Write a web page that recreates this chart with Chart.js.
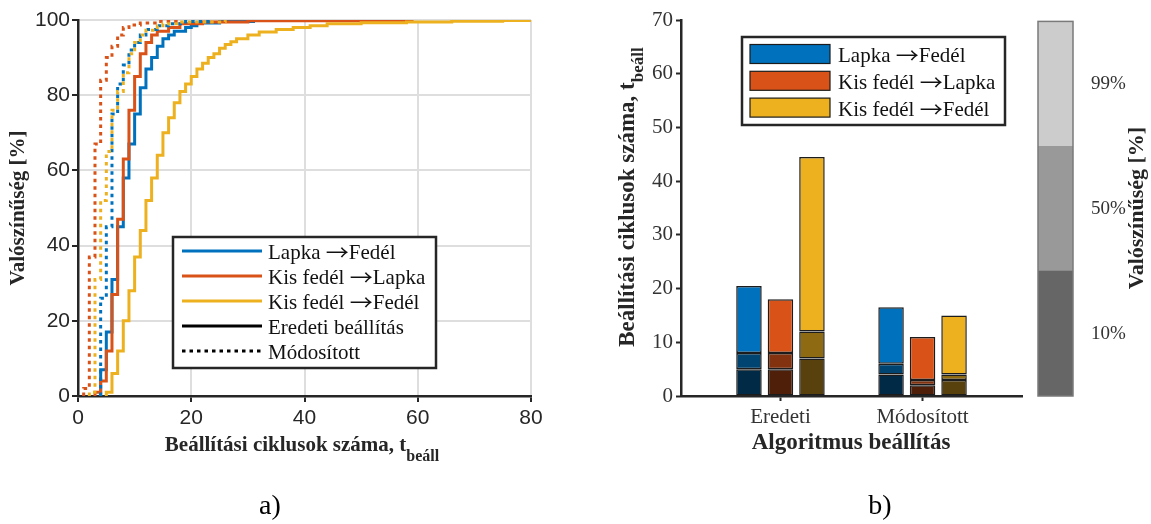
<!DOCTYPE html>
<html>
<head>
<meta charset="utf-8">
<script src="https://cdn.jsdelivr.net/npm/chart.js@4.4.0/dist/chart.umd.min.js"></script>
<style>
  html, body { margin: 0; padding: 0; background: #fff; width: 1151px; height: 524px; overflow: hidden; }
  canvas { position: absolute; top: 0; }
</style>
</head>
<body>
<canvas id="ecdf" width="560" height="524" style="left:0px"></canvas>
<canvas id="bars" width="440" height="524" style="left:590px"></canvas>
<canvas id="cbar" width="121" height="524" style="left:1030px"></canvas>
<script>
// ---------- data ----------
const routeNames = ['Lapka \u2192Fedél', 'Kis fedél \u2192Lapka', 'Kis fedél \u2192Fedél'];
const settingNames = ['Eredeti beállítás', 'Módosított'];
const groupLabels = ['Eredeti', 'Módosított'];
const levelLabels = ['10%', '50%', '99%'];

// empirical CDF of settling cycles [%], original setting
const tLapkaFedelOrig = [4, 5, 6, 7, 8, 9, 10, 11, 12, 13, 14, 15, 16, 17, 19, 20, 21, 25, 31];
const pLapkaFedelOrig = [7, 17, 31, 45, 58, 67, 75, 82, 87, 90, 93, 95, 96, 97, 98, 98.5, 99.2, 99.6, 100];
const tKisLapkaOrig = [3, 4, 5, 6, 7, 8, 9, 10, 11, 12, 13, 14, 16, 18, 22, 30, 59];
const pKisLapkaOrig = [1, 4, 12, 27, 47, 63, 76, 85, 91, 94, 96, 97, 98, 99, 99.5, 99.8, 100];
const tKisFedelOrig = [5, 6, 7, 8, 9, 10, 11, 12, 13, 14, 15, 16, 17, 18, 19, 20, 21, 22, 23, 24, 25, 26, 27, 28, 30, 32, 35, 38, 41, 44, 50, 58, 66, 75, 90];
const pKisFedelOrig = [1, 6, 12, 20, 28, 37, 44, 52, 58, 64, 70, 74, 78, 81, 83, 85, 87, 88.5, 90, 91, 92.5, 93.5, 94.2, 95, 96, 96.8, 97.5, 98, 98.5, 99, 99.3, 99.5, 99.7, 99.85, 100];

// empirical CDF of settling cycles [%], modified setting
const tLapkaFedelMod = [4, 5, 6, 7, 8, 9, 10, 11, 12, 14, 16, 19, 23];
const pLapkaFedelMod = [26, 45, 75, 83, 88, 92, 94, 96, 97.5, 98.5, 99, 99.6, 100];
const tKisLapkaMod = [1, 2, 3, 4, 5, 6, 7, 8, 9, 11, 14, 18];
const pKisLapkaMod = [2, 37, 67, 84, 90, 93, 96, 98, 98.7, 99.2, 99.6, 100];
const tKisFedelMod = [2, 3, 4, 5, 6, 7, 8, 9, 10, 11, 12, 14, 15, 18, 26];
const pKisFedelMod = [1, 31, 52, 65, 76, 81, 86, 91, 94, 96, 97.3, 98.5, 99, 99.5, 100];

const xTicks = [0, 20, 40, 60, 80];
const yTicks = [0, 20, 40, 60, 80, 100];
const barTicks = [0, 10, 20, 30, 40, 50, 60, 70];

// settling-cycle percentiles (10 / 50 / 99 %) per setting [Eredeti, Módosított]
const q10LapkaFedel = [5, 4];
const q50LapkaFedel = [8, 6];
const q99LapkaFedel = [20.5, 16.5];
const q10KisLapka = [5, 2];
const q50KisLapka = [8, 3];
const q99KisLapka = [18, 11];
const q10KisFedel = [7, 3];
const q50KisFedel = [12, 4];
const q99KisFedel = [44.5, 15];

// equal-height bands of the probability colour key
const levelBands = [1, 1, 1];

// ---------- styles ----------
const routeColors = ['#0072BD', '#D95319', '#EDB120'];
const levelShade = [0.37, 0.6, 1];
const levelGrays = ['#666666', '#999999', '#cccccc'];
const AX = '#262626';
const SERIF = '"Liberation Serif", "Times New Roman", serif';
const SANS = '"Liberation Sans", Arial, sans-serif';
const ARROW_FONT = '"Noto Sans CJK JP", "DejaVu Serif", serif';

function shade(hex, f) {
  const n = parseInt(hex.slice(1), 16);
  const r = Math.round(((n >> 16) & 255) * f);
  const g = Math.round(((n >> 8) & 255) * f);
  const b = Math.round((n & 255) * f);
  return 'rgb(' + r + ',' + g + ',' + b + ')';
}

function cdfPoints(t, p) {
  const pts = [{ x: t[0], y: 0 }];
  t.forEach((v, i) => pts.push({ x: v, y: p[i] }));
  return pts;
}

function drawSubText(ctx, cx, cy, main, sub, mainFont, subFont, angle, subDrop, color) {
  ctx.save();
  ctx.translate(cx, cy);
  ctx.rotate(angle);
  ctx.font = mainFont;
  const wm = ctx.measureText(main).width;
  ctx.font = subFont;
  const ws = sub ? ctx.measureText(sub).width : 0;
  const x0 = -(wm + ws) / 2;
  ctx.textBaseline = 'middle';
  ctx.textAlign = 'left';
  ctx.fillStyle = color || AX;
  ctx.font = mainFont;
  ctx.fillText(main, x0, 0);
  if (sub) {
    ctx.font = subFont;
    ctx.fillText(sub, x0 + wm, subDrop);
  }
  ctx.restore();
}

// legend label with a long thin arrow glyph between the two route ends
function drawLegendLabel(ctx, text, x, baseline) {
  ctx.save();
  ctx.fillStyle = '#111';
  ctx.textBaseline = 'alphabetic';
  ctx.textAlign = 'left';
  const parts = text.split('\u2192');
  ctx.font = '21px ' + SERIF;
  ctx.fillText(parts[0], x, baseline);
  let cx = x + ctx.measureText(parts[0]).width;
  if (parts.length > 1) {
    ctx.font = '21px ' + ARROW_FONT;
    const aw = ctx.measureText('\u2192').width;
    const sx = 1.1;
    ctx.save();
    ctx.translate(cx, baseline + 1);
    ctx.scale(sx, 1);
    ctx.fillText('\u2192', 0, 0);
    ctx.restore();
    cx += aw * sx;
    ctx.font = '21px ' + SERIF;
    ctx.fillText(parts[1], cx, baseline);
  }
  ctx.restore();
}

const DOT = [3.5, 4];

// ---------- a) cumulative distributions ----------
const ecdfSeries = [
  { t: tKisFedelMod, p: pKisFedelMod, c: 2, dotted: true },
  { t: tKisLapkaMod, p: pKisLapkaMod, c: 1, dotted: true },
  { t: tLapkaFedelMod, p: pLapkaFedelMod, c: 0, dotted: true },
  { t: tKisFedelOrig, p: pKisFedelOrig, c: 2, dotted: false },
  { t: tKisLapkaOrig, p: pKisLapkaOrig, c: 1, dotted: false },
  { t: tLapkaFedelOrig, p: pLapkaFedelOrig, c: 0, dotted: false }
];

const ecdfDatasets = ecdfSeries.map(s => ({
  label: routeNames[s.c] + (s.dotted ? ' (' + settingNames[1] + ')' : ' (' + settingNames[0] + ')'),
  data: cdfPoints(s.t, s.p),
  stepped: 'before',
  borderColor: routeColors[s.c],
  borderWidth: 3,
  borderDash: s.dotted ? DOT : [],
  borderCapStyle: 'butt',
  pointRadius: 0,
  fill: false
}));

const ecdfDecor = {
  id: 'ecdfDecor',
  afterDraw(chart) {
    const ctx = chart.ctx;
    // legend
    const x0 = 173, y0 = 237, x1 = 436, y1 = 368;
    ctx.save();
    ctx.fillStyle = '#fff';
    ctx.fillRect(x0, y0, x1 - x0, y1 - y0);
    ctx.strokeStyle = AX;
    ctx.lineWidth = 2.5;
    ctx.strokeRect(x0, y0, x1 - x0, y1 - y0);
    const entries = [
      { text: routeNames[0], color: routeColors[0], dash: [] },
      { text: routeNames[1], color: routeColors[1], dash: [] },
      { text: routeNames[2], color: routeColors[2], dash: [] },
      { text: settingNames[0], color: '#000', dash: [] },
      { text: settingNames[1], color: '#000', dash: DOT }
    ];
    entries.forEach((e, i) => {
      const y = 251 + i * 25;
      ctx.beginPath();
      ctx.setLineDash(e.dash);
      ctx.lineCap = 'butt';
      ctx.strokeStyle = e.color;
      ctx.lineWidth = 3;
      ctx.moveTo(182, y);
      ctx.lineTo(262, y);
      ctx.stroke();
      ctx.setLineDash([]);
      drawLegendLabel(ctx, e.text, 268, y + 8);
    });
    ctx.restore();
    // axis titles
    drawSubText(ctx, 302, 446, 'Beállítási ciklusok száma, t', 'beáll',
      'bold 21px ' + SERIF, 'bold 16px ' + SERIF, 0, 11);
    drawSubText(ctx, 19, 208, 'Valószínűség [%]', '',
      'bold 21px ' + SERIF, 'bold 16px ' + SERIF, -Math.PI / 2, 0);
    // panel caption
    ctx.save();
    ctx.fillStyle = '#000';
    ctx.font = '28px ' + SERIF;
    ctx.textAlign = 'center';
    ctx.textBaseline = 'middle';
    ctx.fillText('a)', 270, 507);
    ctx.restore();
  }
};

new Chart(document.getElementById('ecdf'), {
  type: 'line',
  data: { datasets: ecdfDatasets },
  options: {
    responsive: false,
    animation: false,
    devicePixelRatio: 1,
    layout: { padding: { left: 0, right: 29, top: 20, bottom: 54 } },
    plugins: { legend: { display: false }, tooltip: { enabled: false } },
    scales: {
      x: {
        type: 'linear', min: 0, max: 80,
        afterBuildTicks: s => { s.ticks = xTicks.map(v => ({ value: v })); },
        ticks: { font: { family: SANS, size: 21 }, color: AX, padding: 4, maxRotation: 0, autoSkip: false },
        grid: { color: '#dedede', lineWidth: 2, tickColor: AX, tickLength: 6, tickWidth: 2 },
        border: { color: AX, width: 2.5 },
        afterFit: s => { s.height = 74; }
      },
      y: {
        type: 'linear', min: 0, max: 100,
        afterBuildTicks: s => { s.ticks = yTicks.map(v => ({ value: v })); },
        ticks: { font: { family: SANS, size: 21 }, color: AX, padding: 2, autoSkip: false },
        grid: { color: '#dedede', lineWidth: 2, tickColor: AX, tickLength: 6, tickWidth: 2 },
        border: { color: AX, width: 2.5 },
        afterFit: s => { s.width = 78; }
      }
    }
  },
  plugins: [ecdfDecor]
});

// ---------- b) percentile bars ----------
const routeQuantiles = [
  [q10LapkaFedel, q50LapkaFedel, q99LapkaFedel],
  [q10KisLapka, q50KisLapka, q99KisLapka],
  [q10KisFedel, q50KisFedel, q99KisFedel]
];

const barDatasets = [];
routeQuantiles.forEach((qs, r) => {
  qs.forEach((q, k) => {
    barDatasets.push({
      label: routeNames[r] + ' ' + levelLabels[k],
      stack: 'route' + r,
      data: q.map((v, g) => ({ x: g + 1, y: k === 0 ? v : v - qs[k - 1][g] })),
      backgroundColor: shade(routeColors[r], levelShade[k]),
      borderColor: '#1c1c1c',
      borderWidth: 1.5,
      borderSkipped: false,
      categoryPercentage: 0.665,
      barPercentage: 0.81
    });
  });
});

const barsDecor = {
  id: 'barsDecor',
  afterDraw(chart) {
    const ctx = chart.ctx;
    const x0 = 152, y0 = 37, x1 = 415, y1 = 125;
    ctx.save();
    ctx.fillStyle = '#fff';
    ctx.fillRect(x0, y0, x1 - x0, y1 - y0);
    ctx.strokeStyle = AX;
    ctx.lineWidth = 2.5;
    ctx.strokeRect(x0, y0, x1 - x0, y1 - y0);
    routeNames.forEach((name, i) => {
      const y = 54 + i * 26.8;
      ctx.fillStyle = routeColors[i];
      ctx.fillRect(160, y - 9.5, 80, 19);
      ctx.strokeStyle = '#1c1c1c';
      ctx.lineWidth = 1.2;
      ctx.strokeRect(160, y - 9.5, 80, 19);
      drawLegendLabel(ctx, name, 248, y + 8);
    });
    ctx.restore();
    drawSubText(ctx, 38, 197, 'Beállítási ciklusok száma, t', 'beáll',
      'bold 23px ' + SERIF, 'bold 17px ' + SERIF, -Math.PI / 2, 11);
    drawSubText(ctx, 261, 443, 'Algoritmus beállítás', '',
      'bold 23px ' + SERIF, 'bold 17px ' + SERIF, 0, 0);
    ctx.save();
    ctx.fillStyle = '#000';
    ctx.font = '28px ' + SERIF;
    ctx.textAlign = 'center';
    ctx.textBaseline = 'middle';
    ctx.fillText('b)', 290, 507);
    ctx.restore();
  }
};

new Chart(document.getElementById('bars'), {
  type: 'bar',
  data: { datasets: barDatasets },
  options: {
    responsive: false,
    animation: false,
    devicePixelRatio: 1,
    layout: { padding: { left: 0, right: 8, top: 20, bottom: 54 } },
    plugins: { legend: { display: false }, tooltip: { enabled: false } },
    scales: {
      x: {
        type: 'linear', min: 0.3, max: 2.7, offset: false,
        afterBuildTicks: s => { s.ticks = groupLabels.map((_, i) => ({ value: i + 1 })); },
        ticks: { callback: (v, i) => groupLabels[i], font: { family: SERIF, size: 21 }, color: '#333', padding: 4, maxRotation: 0, autoSkip: false },
        grid: { offset: false, drawOnChartArea: false, tickColor: AX, tickLength: 5, tickWidth: 2 },
        border: { color: AX, width: 2.5 },
        afterFit: s => { s.height = 74; }
      },
      y: {
        type: 'linear', min: 0, max: 70, stacked: true,
        afterBuildTicks: s => { s.ticks = barTicks.map(v => ({ value: v })); },
        ticks: { font: { family: SERIF, size: 21 }, color: '#333', padding: 3, autoSkip: false },
        grid: { drawOnChartArea: false, tickColor: AX, tickLength: 5, tickWidth: 2 },
        border: { color: AX, width: 2.5 },
        afterFit: s => { s.width = 91; }
      }
    }
  },
  plugins: [barsDecor]
});

// ---------- probability colour key ----------
const bandMids = levelBands.map((b, i) => levelBands.slice(0, i).reduce((a, c) => a + c, 0) + b / 2);
const bandTotal = levelBands.reduce((a, c) => a + c, 0);

const cbarDecor = {
  id: 'cbarDecor',
  afterDatasetsDraw(chart) {
    const a = chart.chartArea;
    const ctx = chart.ctx;
    ctx.save();
    ctx.strokeStyle = '#7a7a7a';
    ctx.lineWidth = 1.5;
    ctx.strokeRect(a.left, a.top, a.right - a.left, a.bottom - a.top);
    ctx.restore();
  },
  afterDraw(chart) {
    drawSubText(chart.ctx, 107, 208, 'Valószínűség [%]', '',
      'bold 22px ' + SERIF, 'bold 16px ' + SERIF, -Math.PI / 2, 0);
  }
};

new Chart(document.getElementById('cbar'), {
  type: 'bar',
  data: {
    labels: [''],
    datasets: levelLabels.map((l, i) => ({
      label: l,
      data: [levelBands[i]],
      backgroundColor: levelGrays[i],
      borderWidth: 0,
      barPercentage: 1,
      categoryPercentage: 1
    }))
  },
  options: {
    responsive: false,
    animation: false,
    devicePixelRatio: 1,
    layout: { padding: { left: 8, right: 0, top: 20, bottom: 128 } },
    plugins: { legend: { display: false }, tooltip: { enabled: false } },
    scales: {
      x: { display: false, stacked: true },
      y: {
        position: 'right', stacked: true, min: 0, max: bandTotal,
        afterBuildTicks: s => { s.ticks = bandMids.map(v => ({ value: v })); },
        ticks: { callback: (v, i) => levelLabels[i], font: { family: SERIF, size: 19 }, color: '#333', padding: 10, autoSkip: false },
        grid: { display: false },
        border: { display: false },
        afterFit: s => { s.width = 78; }
      }
    }
  },
  plugins: [cbarDecor]
});
</script>
</body>
</html>
